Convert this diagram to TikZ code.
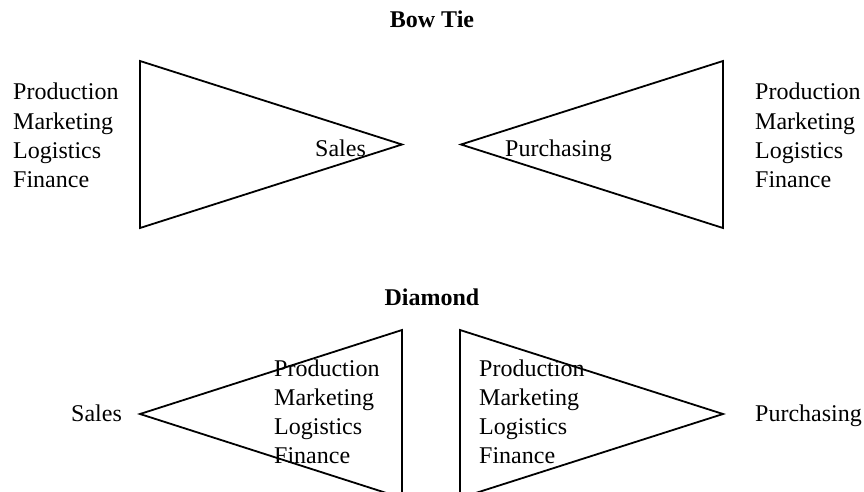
\documentclass[tikz,border=0pt]{standalone}
\usepackage{fontspec}
\setmainfont{Liberation Serif}
\begin{document}
\begin{tikzpicture}[x=1pt,y=-1pt,
  label/.style={anchor=base west,inner sep=0pt,font=\fontsize{24}{29}\selectfont},
  heading/.style={anchor=base,inner sep=0pt,font=\fontsize{24}{29}\selectfont\bfseries},
  wedge/.style={draw=black,line width=1.8pt,line join=miter}]
\useasboundingbox (0,0) rectangle (864,492);
\clip (0,0) rectangle (864,492);

% Bow Tie
\node[heading] (bowtie) at (432,28) {Bow Tie};
\draw[wedge] (140,61) -- (402,144.5) -- (140,228) -- cycle;
\draw[wedge] (723,61) -- (461,144.5) -- (723,228) -- cycle;
\node[label] (salesA) at (315,156) {Sales};
\node[label] (purchA) at (505,156) {Purchasing};
\foreach \t [count=\i] in {Production,Marketing,Logistics,Finance}{
  \node[label] (bl\i) at (13,{100+29*(\i-1)}) {\t};
  \node[label] (br\i) at (755,{100+29*(\i-1)}) {\t};
}

% Diamond
\node[heading] (diamond) at (432,305) {Diamond};
\draw[wedge] (402,330) -- (140,414) -- (402,498) -- cycle;
\draw[wedge] (460,330) -- (723,414) -- (460,498) -- cycle;
\node[label] (salesB) at (71,421) {Sales};
\node[label] (purchB) at (755,421) {Purchasing};
\foreach \t [count=\i] in {Production,Marketing,Logistics,Finance}{
  \node[label] (dl\i) at (274,{376+29*(\i-1)}) {\t};
  \node[label] (dr\i) at (479,{376+29*(\i-1)}) {\t};
}
\end{tikzpicture}
\end{document}
